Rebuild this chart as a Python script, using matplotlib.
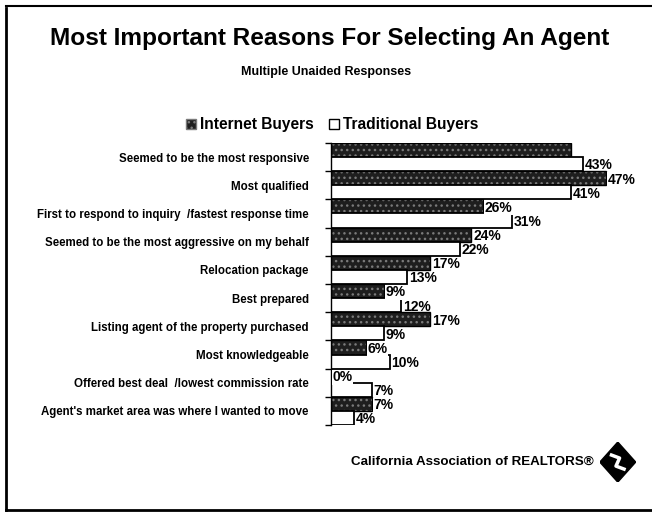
import matplotlib.pyplot as plt
import matplotlib.patches as mpatches
from matplotlib.lines import Line2D

plt.rcParams['font.family'] = ['Liberation Sans', 'DejaVu Sans']
plt.rcParams['hatch.linewidth'] = 1.0

reasons = [
    "Seemed to be the most responsive",
    "Most qualified",
    "First to respond to inquiry  /fastest response time",
    "Seemed to be the most aggressive on my behalf",
    "Relocation package",
    "Best prepared",
    "Listing agent of the property purchased",
    "Most knowledgeable",
    "Offered best deal  /lowest commission rate",
    "Agent's market area was where I wanted to move",
]
internet = [41, 47, 26, 24, 17, 9, 17, 6, 0, 7]
traditional = [43, 41, 31, 22, 13, 12, 9, 10, 7, 4]
# the label of the first internet bar is hidden in the original
show_internet_label = [False, True, True, True, True, True, True, True, True, True]

fig = plt.figure(figsize=(6.52, 5.14), dpi=100)
ax = fig.add_axes([0.5077, 0.173, 0.4486, 0.549])

pos = list(range(len(reasons)))
h = 0.5
dark_kw = dict(color='#1e1e1e', edgecolor='#7a7a7a', hatch='...', linewidth=0)
ax.barh([p - h / 2 for p in pos], internet, height=h, **dark_kw)
ax.barh([p - h / 2 for p in pos], internet, height=h, fill=False,
        edgecolor='black', linewidth=1)
ax.barh([p + h / 2 for p in pos], traditional, height=h, color='white',
        edgecolor='black', linewidth=1.3)

for p, v, show in zip(pos, internet, show_internet_label):
    if show:
        ax.text(v + 0.3, p - h / 2 + 0.05, f"{v}%", va='center', ha='left',
                fontsize=10, fontweight='bold',
                bbox=dict(facecolor='white', edgecolor='none', pad=0.3))
for p, v in zip(pos, traditional):
    ax.text(v + 0.3, p + h / 2 + 0.05, f"{v}%", va='center', ha='left',
            fontsize=10, fontweight='bold')

ax.set_xlim(0, 50)
ax.set_ylim(len(reasons) - 0.5, -0.5)
ax.set_yticks(pos)
ax.set_yticklabels(reasons, fontsize=8.3, fontweight='bold')
ax.set_yticks([p + 0.5 for p in range(-1, len(reasons))], minor=True)
ax.tick_params(axis='y', which='major', length=0, pad=16)
ax.tick_params(axis='y', which='minor', length=4, direction='out', width=1)
ax.set_xticks([])
for s in ['top', 'right', 'bottom']:
    ax.spines[s].set_visible(False)
ax.spines['left'].set_linewidth(1)

fig.text(0.505, 1 - 38 / 514, "Most Important Reasons For Selecting An Agent",
         ha='center', va='center', fontsize=17.6, fontweight='bold')
fig.text(0.5, 1 - 72 / 514, "Multiple Unaided Responses",
         ha='center', va='center', fontsize=9, fontweight='bold')

handles = [mpatches.Patch(facecolor='#1e1e1e', edgecolor='#7a7a7a', hatch='...'),
           mpatches.Patch(facecolor='white', edgecolor='black', linewidth=1)]
fig.legend(handles, ["Internet Buyers", "Traditional Buyers"],
           loc='center', bbox_to_anchor=(0.51, 1 - 125 / 514), ncol=2,
           frameon=False, handlelength=0.6, handleheight=0.6,
           handletextpad=0.3, columnspacing=1.0,
           prop=dict(size=11.2, weight='bold'))

fig.text(0.91, 1 - 462 / 514, "California Association of REALTORS\u00ae",
         ha='right', va='center', fontsize=9.6, fontweight='bold')

# logo: black diamond with a white stroke
logo = fig.add_axes([0.92, 0.062, 0.055, 0.078])
logo.set_xlim(-1, 1)
logo.set_ylim(-1, 1)
logo.axis('off')
logo.add_patch(mpatches.Polygon([[0, 1], [1, 0], [0, -1], [-1, 0]],
                                closed=True, color='black'))
logo.plot([-0.35, 0.1, -0.1, 0.35], [0.35, 0.2, -0.2, -0.35],
          color='white', linewidth=2.5)

# scanned page border
fig.add_artist(Line2D([6 / 652, 6 / 652], [1 - 8 / 514, 1 - 510 / 514],
                      color='black', linewidth=2, transform=fig.transFigure))
fig.add_artist(Line2D([6 / 652, 1], [1 - 6 / 514, 1 - 6 / 514],
                      color='black', linewidth=1.5, transform=fig.transFigure))
fig.add_artist(Line2D([6 / 652, 1], [1 - 510 / 514, 1 - 510 / 514],
                      color='black', linewidth=2, transform=fig.transFigure))

fig.savefig('out.png', dpi=100)
